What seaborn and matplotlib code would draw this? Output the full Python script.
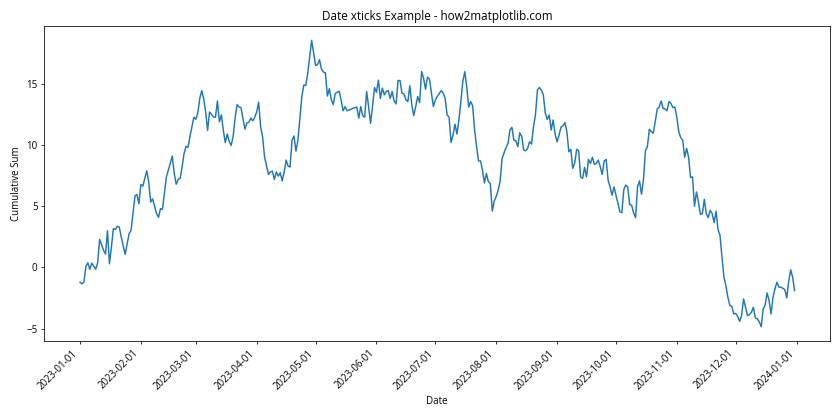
import matplotlib
matplotlib.use("Agg")
import matplotlib.pyplot as plt
import matplotlib.dates as mdates
import pandas as pd
import seaborn as sns

plt.rcParams['font.family'] = ['Open Sans', 'DejaVu Sans']

START_DATE = "2023-01-01"
DAY_OFFSETS = [
    0, 1, 2, 3, 4, 5, 6, 8, 9, 10, 12, 13, 14, 15, 16, 17, 18, 19, 20, 21,
    23, 24, 25, 26, 28, 29, 30, 31, 32, 34, 35, 36, 37, 39, 40, 41, 42, 44, 45, 47,
    48, 49, 50, 51, 52, 53, 54, 55, 56, 58, 59, 60, 61, 62, 63, 64, 65, 66, 68, 69,
    70, 71, 72, 73, 74, 75, 76, 77, 78, 79, 80, 81, 82, 84, 85, 86, 87, 88, 89, 90,
    91, 92, 93, 94, 96, 97, 98, 99, 100, 101, 102, 103, 104, 105, 106, 107, 108, 109, 110, 111,
    112, 113, 114, 115, 116, 117, 118, 119, 120, 121, 122, 123, 124, 125, 126, 127, 128, 129, 130, 131,
    132, 133, 134, 135, 136, 137, 139, 141, 142, 143, 144, 145, 146, 147, 148, 149, 150, 151, 152, 153,
    154, 155, 156, 157, 158, 159, 160, 161, 162, 163, 164, 165, 166, 167, 168, 169, 170, 171, 172, 173,
    174, 175, 176, 177, 178, 179, 180, 181, 182, 184, 185, 186, 187, 188, 189, 190, 191, 192, 193, 194,
    195, 196, 197, 198, 199, 200, 201, 202, 203, 204, 205, 206, 207, 208, 209, 210, 211, 212, 213, 214,
    215, 216, 217, 218, 219, 220, 221, 222, 223, 224, 225, 226, 227, 228, 229, 230, 231, 232, 233, 234,
    235, 236, 237, 238, 239, 240, 241, 242, 243, 244, 245, 246, 247, 248, 249, 250, 251, 252, 253, 254,
    255, 256, 257, 258, 259, 260, 261, 262, 263, 264, 265, 266, 267, 268, 269, 270, 271, 272, 273, 274,
    275, 276, 277, 278, 279, 280, 281, 282, 283, 284, 285, 286, 287, 288, 289, 290, 291, 292, 293, 294,
    295, 296, 297, 298, 299, 300, 301, 302, 303, 304, 305, 306, 307, 308, 309, 310, 311, 312, 313, 314,
    315, 316, 317, 318, 319, 320, 321, 322, 323, 324, 325, 326, 327, 328, 329, 330, 331, 332, 333, 334,
    335, 336, 337, 338, 339, 340, 341, 342, 343, 344, 345, 346, 347, 348, 349, 350, 351, 352, 353, 354,
    355, 356, 357, 358, 359, 360, 361, 362, 363, 364,
]
VALUES = [
    -1.2, -1.34, -1.2, 0.08, 0.38, -0.16, 0.35, -0.14, 0.38, 2.3, 1.4, 1.1, 3.0, 0.3, 1.66, 3.17, 3.1, 3.36, 3.3, 2.5,
    1.07, 1.94, 2.76, 3.03, 5.84, 5.96, 5.2, 6.78, 6.64, 7.9, 7.0, 5.35, 5.6, 4.4, 4.1, 4.8, 4.75, 7.4, 7.95, 9.1,
    7.68, 6.8, 7.19, 7.27, 8.2, 9.3, 9.9, 9.8, 10.7, 12.27, 12.1, 12.6, 13.8, 14.45, 13.8, 12.7, 11.2, 12.7, 12.3, 12.27,
    13.6, 11.9, 12.46, 11.2, 10.2, 10.9, 10.3, 9.97, 10.7, 12.2, 13.3, 13.1, 13.06, 11.3, 11.8, 11.86, 12.2, 11.97, 12.27, 12.7,
    13.5, 11.5, 10.7, 9.04, 7.6, 7.8, 7.87, 7.19, 7.8, 7.46, 7.73, 7.07, 7.8, 8.77, 8.28, 8.2, 10.4, 10.74, 9.5, 10.4,
    12.2, 13.96, 14.9, 14.86, 15.87, 17.2, 18.55, 17.5, 16.5, 16.56, 16.97, 16.2, 15.96, 15.9, 14.0, 14.6, 13.7, 13.3, 14.2, 14.3,
    14.4, 13.7, 12.8, 13.14, 12.8, 12.85, 13.0, 13.1, 12.2, 13.14, 12.4, 12.27, 14.37, 13.14, 11.78, 13.14, 14.7, 14.3, 15.3, 13.8,
    14.65, 14.1, 14.37, 14.45, 13.8, 14.37, 13.6, 13.36, 15.27, 15.27, 14.24, 14.18, 13.7, 13.55, 14.84, 13.28, 12.4, 13.14, 13.96, 13.47,
    16.0, 15.47, 14.56, 15.55, 15.38, 14.24, 13.14, 13.7, 13.96, 14.45, 14.24, 13.8, 12.46, 12.27, 10.2, 10.8, 11.7, 10.9, 12.05, 13.55,
    15.2, 16.0, 14.73, 13.1, 13.55, 13.2, 11.23, 9.86, 8.7, 8.7, 7.95, 6.9, 7.68, 7.0, 6.86, 4.6, 5.43, 5.8, 6.3, 7.07,
    8.9, 9.37, 9.78, 10.14, 11.23, 11.45, 10.4, 10.35, 9.86, 11.0, 10.7, 9.6, 9.53, 9.73, 10.27, 10.08, 11.5, 12.46, 14.5, 14.7,
    14.5, 14.1, 12.6, 12.1, 12.46, 11.23, 12.05, 10.9, 10.27, 10.8, 11.45, 11.56, 11.83, 11.1, 9.45, 9.65, 8.09, 8.55, 9.65, 9.53,
    7.4, 7.27, 8.17, 7.4, 8.83, 8.5, 9.0, 8.42, 8.5, 8.77, 8.22, 7.6, 8.7, 8.83, 7.13, 6.58, 5.9, 6.58, 5.9, 5.27,
    4.53, 4.48, 6.37, 6.72, 6.58, 5.14, 5.08, 4.45, 4.07, 6.58, 7.07, 5.98, 7.13, 9.53, 9.86, 11.29, 11.1, 10.96, 11.9, 12.93,
    13.1, 13.6, 13.0, 12.95, 12.8, 13.55, 13.4, 13.06, 13.1, 12.27, 11.1, 10.6, 10.4, 9.0, 9.73, 9.0, 7.35, 7.4, 5.0, 6.17,
    5.35, 4.34, 4.4, 5.57, 4.4, 4.07, 4.67, 4.4, 3.66, 4.59, 3.09, 2.62, 0.84, -0.8, -1.48, -2.43, -3.1, -3.17, -3.8, -3.75,
    -4.0, -4.4, -3.93, -2.57, -3.25, -3.93, -3.85, -3.66, -3.25, -4.12, -4.2, -4.43, -4.84, -3.39, -3.06, -2.08, -2.7, -3.8, -2.43, -1.75,
    -1.2, -1.61, -1.61, -1.7, -1.8, -2.49, -1.12, -0.19, -0.8, -1.89,
]
TITLE = "Date xticks Example - how2matplotlib.com"
XLABEL = "Date"
YLABEL = "Cumulative Sum"

df = pd.DataFrame({
    "Date": pd.Timestamp(START_DATE) + pd.to_timedelta(DAY_OFFSETS, unit="D"),
    "Cumulative Sum": VALUES,
})

fig, ax = plt.subplots(figsize=(12, 6), dpi=70)
sns.lineplot(data=df, x="Date", y="Cumulative Sum", ax=ax, color="#1f77b4", linewidth=1.5)
ax.set_title(TITLE)
ax.set_xlabel(XLABEL)
ax.set_ylabel(YLABEL)
ax.xaxis.set_major_locator(mdates.MonthLocator())
ax.xaxis.set_major_formatter(mdates.DateFormatter("%Y-%m-%d"))
plt.setp(ax.get_xticklabels(), rotation=45, ha="right")
fig.subplots_adjust(left=0.0527, right=0.9885, top=0.938, bottom=0.188)
fig.savefig("out.png", dpi=70)
